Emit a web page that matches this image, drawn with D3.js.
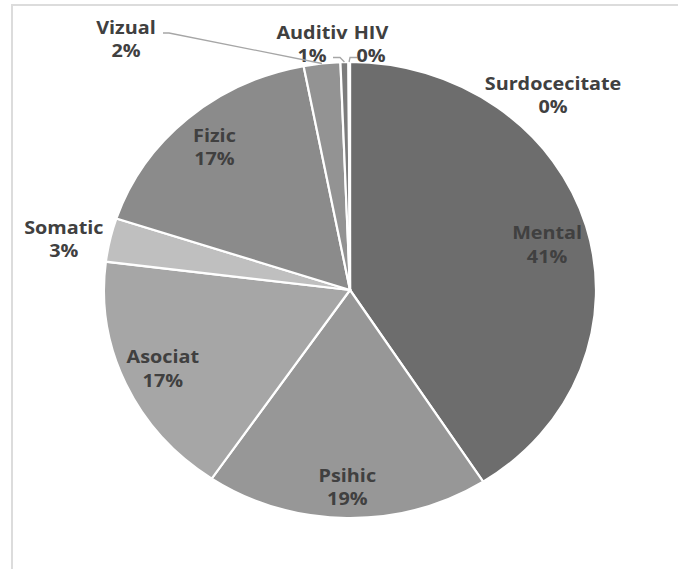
<!DOCTYPE html>
<html><head><meta charset="utf-8">
<script src="https://cdn.jsdelivr.net/npm/d3@7"></script>
<style>html,body{margin:0;padding:0;background:#fff;}svg{display:block;}</style>
</head><body>
<svg id="chart" width="678" height="569"></svg>
<script>
// ---- data ----
const categories = ["Mental","Psihic","Asociat","Somatic","Fizic","Vizual","Auditiv","HIV","Surdocecitate"];
const values     = [40.9, 18.6, 17.48, 3.1, 16.9, 2.4, 0.52, 0.08, 0.02];
const colors     = ["#6d6d6d","#979797","#a6a6a6","#bfbfbf","#8b8b8b","#939393","#7c7c7c","#1e1e1e","#5a5a5a"];

// ---- layout ----
const W = 678, H = 569;
const cx = 350, cy = 290, R = 228, sx = 1.079; // slight horizontal stretch as in reference
const svg = d3.select("#chart");

// frame
svg.append("rect").attr("x",12).attr("y",5).attr("width",W+20).attr("height",H+20)
  .attr("fill","none").attr("stroke","#dcdcdc").attr("stroke-width",2);

const total = d3.sum(values);
const data = categories.map((c,i)=>({name:c, value:values[i], color:colors[i],
  pct: Math.round(values[i]/total*100)}));

const pie = d3.pie().sort(null).value(d=>d.value);
const arcs = pie(data);
const arc = d3.arc().innerRadius(0).outerRadius(R);

const g = svg.append("g").attr("transform",`translate(${cx},${cy}) scale(${sx},1)`);
g.selectAll("path").data(arcs).join("path")
  .attr("d",arc).attr("fill",d=>d.data.color)
  .attr("stroke","#fff").attr("stroke-width",2.2)
  .attr("vector-effect","non-scaling-stroke");

// point helper (screen coords) for angle a and radius r
const pt = (a,r)=>[cx + Math.sin(a)*r*sx, cy - Math.cos(a)*r];

// label placement rules
const insideK = 0.835, outsideK = 1.18;
const manual = { // screen positions for crowded outside labels
  "Vizual":[126,39], "Auditiv":[312,44], "HIV":[371,44], "Surdocecitate":[553,95]
};
const nudge = {"Mental":[0,8], "Somatic":[-3,8], "Psihic":[0,0]};
const inside = new Set(["Mental","Psihic","Asociat","Fizic"]);
const lineH = 23.5;

const labels = svg.append("g")
  .attr("font-family","'Open Sans', 'DejaVu Sans', sans-serif")
  .attr("font-weight",700).attr("font-size",18).attr("fill","#404040")
  .attr("text-anchor","middle");

arcs.forEach(a=>{
  const mid = (a.startAngle+a.endAngle)/2;
  let p;
  if (manual[a.data.name]) p = manual[a.data.name];
  else if (inside.has(a.data.name)) p = pt(mid, R*insideK*(a.data.name==="Psihic"?1.035:1));
  else p = pt(mid, R*outsideK);
  const n = nudge[a.data.name] || [0,0];
  p = [p[0]+n[0], p[1]+n[1]];
  const t = labels.append("text").attr("transform",`translate(${p[0]},${p[1]}) scale(1.1,1)`);
  t.append("tspan").attr("x",0).attr("y",-lineH/2).attr("dominant-baseline","central").text(a.data.name);
  t.append("tspan").attr("x",0).attr("y",lineH/2).attr("dominant-baseline","central").text(a.data.pct+"%");
});

// leader lines
const lc = "#a6a6a6";
const byName = Object.fromEntries(arcs.map(a=>[a.data.name,a]));
function edge(name){const a=byName[name];return pt((a.startAngle+a.endAngle)/2, R);}
const lead = svg.append("g").attr("fill","none").attr("stroke",lc).attr("stroke-width",1.3);
{ const e = edge("Vizual"); lead.append("path").attr("d",`M163,33 L169,33 L${e[0]},${e[1]}`); }
{ const e = edge("Auditiv"); lead.append("path").attr("d",`M333,57.5 L340,57.5 L${e[0]},${e[1]}`); }
{ const e = edge("HIV"); lead.append("path").attr("d",`M${e[0]},${e[1]} L350,57.5 L357,57.5`); }
</script>
</body></html>
